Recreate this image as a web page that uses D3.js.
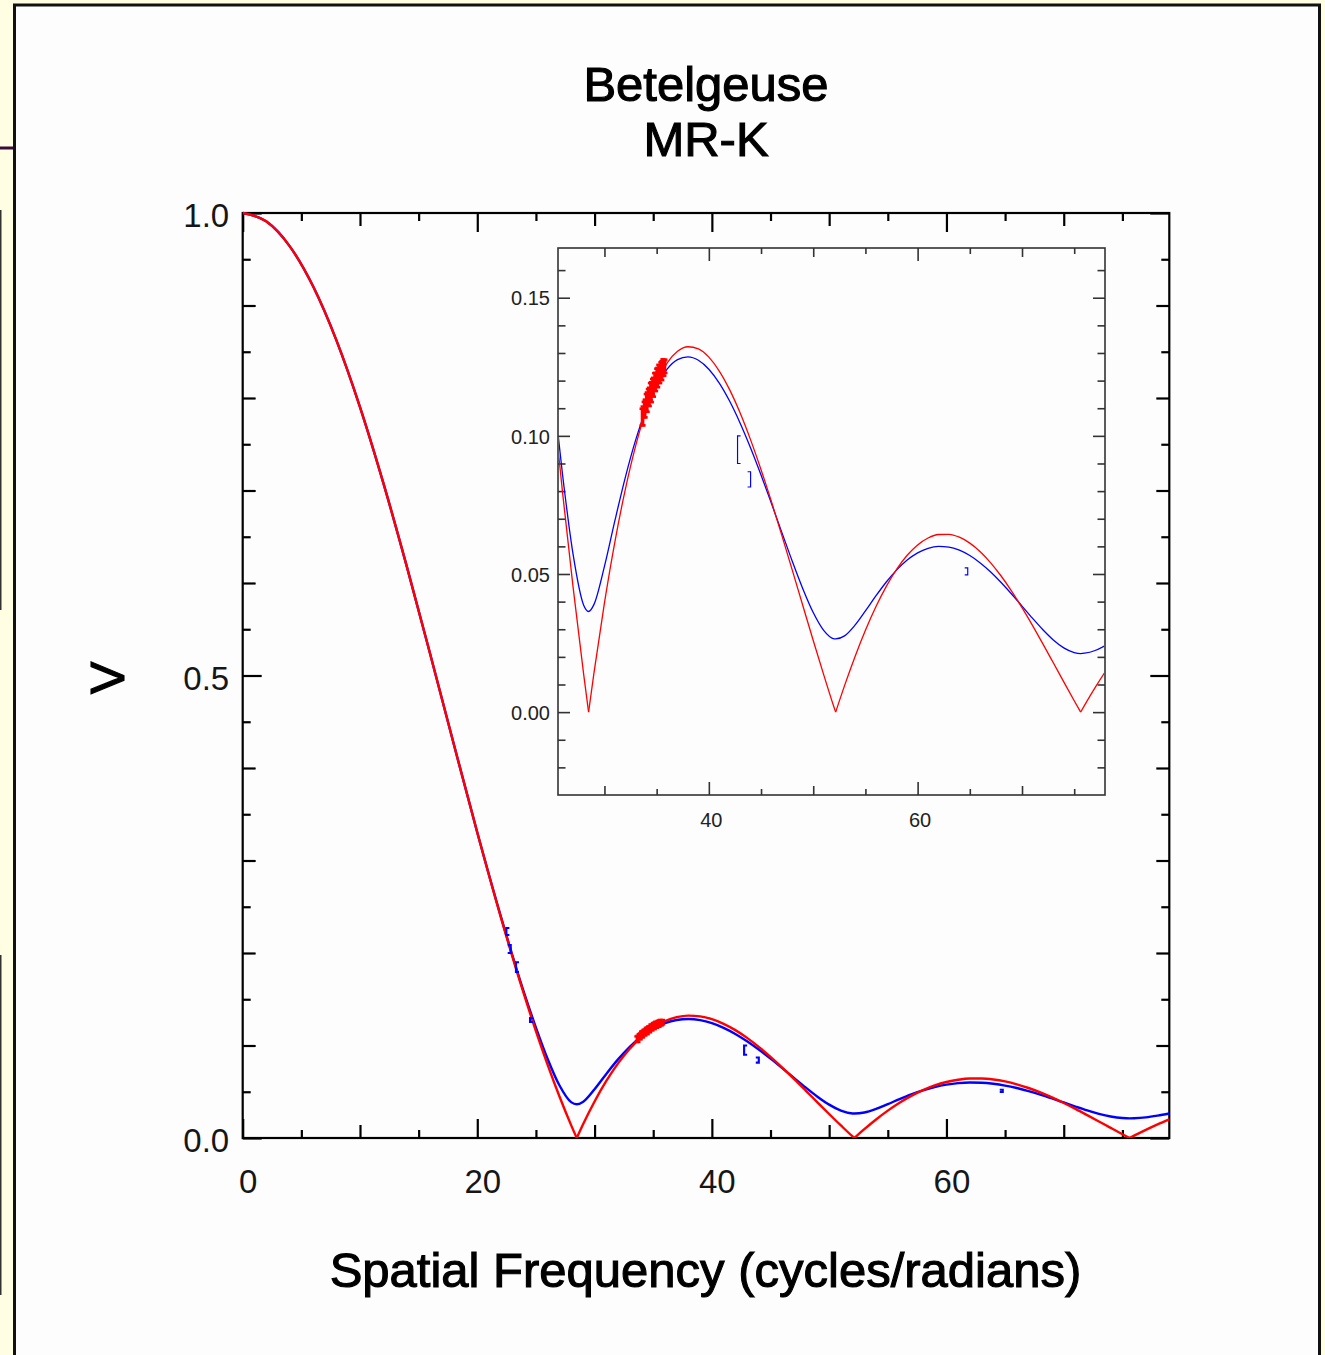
<!DOCTYPE html>
<html>
<head>
<meta charset="utf-8">
<script src="https://cdnjs.cloudflare.com/ajax/libs/d3/7.8.5/d3.min.js"></script>
<style>
  body { margin: 0; background: #fffee2; }
  svg { display: block; font-family: "Liberation Sans", Arial, Helvetica, sans-serif; }
</style>
</head>
<body>
<div id="chart"></div>
<script>
// Data: spatial frequency (cycles/radians) and the two model visibilities
const freq = [0, 2, 4, 6, 8, 10, 12, 14, 16, 18, 20, 22, 24, 25, 26, 27, 28, 28.48, 29, 30,
  31, 32, 33, 34, 35, 36, 37, 38, 39, 40, 41, 42, 43, 44, 45, 46, 47, 48, 49, 50,
  51, 52, 52.15, 53, 54, 55, 56, 57, 58, 59, 60, 61, 62, 63, 64, 65, 66, 67, 68, 69,
  70, 71, 72, 73, 74, 75, 75.62, 76, 77, 78, 79];

// red: uniform disk fit
const uniformDisk = [1.0, 0.99098, 0.96423, 0.92073, 0.86201, 0.79017, 0.70770, 0.61744, 0.52241, 0.42569,
  0.33031, 0.23911, 0.15463, 0.11560, 0.07902, 0.04507, 0.01392, 0, 0.01430, 0.03952,
  0.06164, 0.08065, 0.09657, 0.10944, 0.11933, 0.12634, 0.13059, 0.13225, 0.13148, 0.12848,
  0.12346, 0.11664, 0.10826, 0.09855, 0.08776, 0.07613, 0.06390, 0.05131, 0.03859, 0.02594,
  0.01357, 0.00166, 0, 0.00958, 0.02006, 0.02961, 0.03813, 0.04554, 0.05177, 0.05677,
  0.06052, 0.06303, 0.06430, 0.06437, 0.06331, 0.06118, 0.05806, 0.05405, 0.04927, 0.04382,
  0.03783, 0.03142, 0.02471, 0.01785, 0.01094, 0.00412, 0, 0.00251, 0.00884, 0.01477, 0.02022];

// blue: second model
const modelB = [1.0, 0.99098, 0.96423, 0.92073, 0.86201, 0.79017, 0.70770, 0.61744, 0.52241, 0.42569,
  0.33031, 0.23995, 0.15660, 0.11942, 0.08548, 0.05699, 0.03879, 0.03642, 0.03901, 0.05277,
  0.06931, 0.08500, 0.09862, 0.10975, 0.11825, 0.12417, 0.12758, 0.12862, 0.12738, 0.12413,
  0.11911, 0.11251, 0.10459, 0.09561, 0.08582, 0.07551, 0.06498, 0.05454, 0.04469, 0.03605,
  0.02961, 0.02654, 0.02650, 0.02759, 0.03147, 0.03663, 0.04204, 0.04710, 0.05148, 0.05504,
  0.05765, 0.05930, 0.05999, 0.05975, 0.05863, 0.05669, 0.05401, 0.05073, 0.04694, 0.04277,
  0.03839, 0.03400, 0.02982, 0.02613, 0.02326, 0.02156, 0.02120, 0.02133, 0.02230, 0.02415, 0.02644];

// red measurements (dense group)
const blobFreq = [33.6, 33.7, 33.8, 33.9, 34.0, 34.1, 34.2, 34.3, 34.4, 34.5, 34.6, 34.7,
  34.8, 34.9, 35.0, 35.1, 35.2, 35.3, 35.4, 35.5, 35.6, 35.7, 35.8];
const blobVis = [0.1068, 0.1072, 0.1095, 0.1099, 0.1121, 0.1122, 0.1140, 0.1141, 0.1160, 0.1158, 0.1178, 0.1176,
  0.1197, 0.1195, 0.1214, 0.1211, 0.1226, 0.1223, 0.1238, 0.1236, 0.1247, 0.1245, 0.1252];
const blobErr = [0.0030, 0.0034, 0.0028, 0.0032, 0.0030, 0.0035, 0.0029, 0.0033, 0.0031, 0.0036, 0.0028, 0.0034,
  0.0030, 0.0033, 0.0029, 0.0035, 0.0031, 0.0032, 0.0028, 0.0034, 0.0030, 0.0027, 0.0024];

// blue measurements (error brackets)
const bracketFreq = [22.48, 22.85, 23.3, 24.5, 42.75, 44.0, 64.8];
const bracketLow = [0.2195, 0.2000, 0.1795, 0.1254, 0.0900, 0.0815, 0.0497];
const bracketHigh = [0.2270, 0.2086, 0.1900, 0.1297, 0.1000, 0.0870, 0.0522];
const bracketSide = [1, -1, 1, 1, 1, -1, -1];

// ticks
const mainXMajor = [0, 20, 40, 60];
const mainXMid = [10, 30, 50, 70];
const mainXMinor = [5, 15, 25, 35, 45, 55, 65, 75];
const mainYMajor = [0, 0.5, 1.0];
const mainYMid = [0.1, 0.2, 0.3, 0.4, 0.6, 0.7, 0.8, 0.9];
const mainYMinor = [0.05, 0.15, 0.25, 0.35, 0.45, 0.55, 0.65, 0.75, 0.85, 0.95];

const insetXMajor = [40, 60];
const insetXMid = [30, 50, 70];
const insetXMinor = [35, 45, 55, 65, 75];
const insetYMajor = [0, 0.05, 0.10, 0.15];
const insetYMinor = [-0.02, -0.01, 0.01, 0.02, 0.03, 0.04, 0.06, 0.07, 0.08, 0.09,
  0.11, 0.12, 0.13, 0.14, 0.16];

function draw() {
  const width = 1325, height = 1355;

  const svg = d3.select("#chart").append("svg")
    .attr("width", width)
    .attr("height", height);

  // page bits around the panel
  svg.append("rect").attr("x", 0).attr("y", 146.5).attr("width", 13).attr("height", 3).attr("fill", "#3a0b3a");
  svg.append("rect").attr("x", 0).attr("y", 210).attr("width", 1.5).attr("height", 400).attr("fill", "#333");
  svg.append("rect").attr("x", 0).attr("y", 955).attr("width", 1.5).attr("height", 340).attr("fill", "#333");
  svg.append("rect")
    .attr("x", 14.5).attr("y", 5)
    .attr("width", 1305).attr("height", 1420)
    .attr("fill", "#fdfdfd")
    .attr("stroke", "#111")
    .attr("stroke-width", 3);

  // titles (a thin stroke thickens the glyphs like the original bitmap font)
  const titles = svg.append("g").attr("font-size", 49).attr("fill", "#000")
    .attr("stroke", "#000").attr("stroke-width", 1.1).attr("text-anchor", "middle");
  titles.append("text").attr("x", 706).attr("y", 101).text("Betelgeuse");
  titles.append("text").attr("x", 706).attr("y", 156).text("MR-K");
  titles.append("text").attr("x", 705.5).attr("y", 1287).text("Spatial Frequency (cycles/radians)");
  titles.append("text").attr("transform", "translate(124,678) rotate(-90)").text("V");

  // scales
  const main = { x0: 242.7, x1: 1169.3, y0: 1138, y1: 213 };
  const xMain = d3.scaleLinear().domain([0, 79]).range([main.x0, main.x1]);
  const yMain = d3.scaleLinear().domain([0, 1]).range([main.y0, main.y1]);

  const ins = { x0: 558, x1: 1105, y0: 795, y1: 248 };
  const xIns = d3.scaleLinear().domain([25.55, 77.95]).range([ins.x0, ins.x1]);
  const yIns = d3.scaleLinear().domain([-0.03, 0.168]).range([ins.y0, ins.y1]);

  function tickGroup(axis, values, size, translate, stroke, width, fmt) {
    const g = svg.append("g")
      .attr("transform", translate)
      .call(axis.tickValues(values).tickSize(-size).tickFormat(fmt || (() => "")));
    g.select(".domain").remove();
    g.attr("font-family", null).attr("font-size", null);
    g.selectAll("line").attr("stroke", stroke).attr("stroke-width", width);
    return g;
  }

  // ----- main panel -----
  svg.append("rect")
    .attr("x", main.x0).attr("y", main.y1)
    .attr("width", main.x1 - main.x0).attr("height", main.y0 - main.y1)
    .attr("fill", "none").attr("stroke", "#000").attr("stroke-width", 2.2);

  const bottomMain = tickGroup(d3.axisBottom(xMain).tickPadding(31.6), mainXMajor, 19,
    `translate(0,${main.y0})`, "#000", 2.2, d3.format("d"));
  bottomMain.selectAll("text").attr("font-size", 33).attr("fill", "#161616").attr("dx", 5);
  tickGroup(d3.axisBottom(xMain), mainXMid, 13, `translate(0,${main.y0})`, "#000", 2.2);
  tickGroup(d3.axisBottom(xMain), mainXMinor, 8, `translate(0,${main.y0})`, "#000", 2.2);
  tickGroup(d3.axisTop(xMain), mainXMajor, 19, `translate(0,${main.y1})`, "#000", 2.2);
  tickGroup(d3.axisTop(xMain), mainXMid, 13, `translate(0,${main.y1})`, "#000", 2.2);
  tickGroup(d3.axisTop(xMain), mainXMinor, 8, `translate(0,${main.y1})`, "#000", 2.2);

  const leftMain = tickGroup(d3.axisLeft(yMain).tickPadding(13.5), mainYMajor, 19,
    `translate(${main.x0},0)`, "#000", 2.2, d3.format(".1f"));
  leftMain.selectAll("text").attr("font-size", 33).attr("fill", "#161616").attr("dy", "0.42em");
  tickGroup(d3.axisLeft(yMain), mainYMid, 13, `translate(${main.x0},0)`, "#000", 2.2);
  tickGroup(d3.axisLeft(yMain), mainYMinor, 8, `translate(${main.x0},0)`, "#000", 2.2);
  tickGroup(d3.axisRight(yMain), mainYMajor, 19, `translate(${main.x1},0)`, "#000", 2.2);
  tickGroup(d3.axisRight(yMain), mainYMid, 13, `translate(${main.x1},0)`, "#000", 2.2);
  tickGroup(d3.axisRight(yMain), mainYMinor, 8, `translate(${main.x1},0)`, "#000", 2.2);

  // split the red model into lobes at its zeros so the cusps stay sharp
  const lobes = [];
  let cur = [];
  freq.forEach((u, i) => {
    cur.push([u, uniformDisk[i]]);
    if (uniformDisk[i] === 0) {
      lobes.push(cur);
      cur = [[u, 0]];
    }
  });
  lobes.push(cur);
  const bluePts = freq.map((u, i) => [u, modelB[i]]);

  function drawCurves(g, x, y, lw, capW, blobW) {
    const line = d3.line().x((d) => x(d[0])).y((d) => y(d[1])).curve(d3.curveMonotoneX);
    g.append("path").attr("d", line(bluePts))
      .attr("fill", "none").attr("stroke", "#0000ff").attr("stroke-width", lw);
    lobes.forEach((lobe) => {
      g.append("path").attr("d", line(lobe))
        .attr("fill", "none").attr("stroke", "#ff0000").attr("stroke-width", lw);
    });

    // red measurements with error bars
    const blob = g.append("g").attr("stroke", "#ff0000").attr("stroke-width", blobW);
    blobFreq.forEach((u, i) => {
      const lo = y(blobVis[i] - blobErr[i]), hi = y(blobVis[i] + blobErr[i]);
      blob.append("line").attr("x1", x(u)).attr("x2", x(u)).attr("y1", lo).attr("y2", hi);
      blob.append("line").attr("x1", x(u) - capW).attr("x2", x(u) + capW).attr("y1", lo).attr("y2", lo);
      blob.append("line").attr("x1", x(u) - capW).attr("x2", x(u) + capW).attr("y1", hi).attr("y2", hi);
    });

    // blue measurements as brackets
    const br = g.append("g").attr("fill", "none").attr("stroke", "#0000ff").attr("stroke-width", lw * 0.9);
    bracketFreq.forEach((u, i) => {
      const px = x(u), c = bracketSide[i] * 3;
      const lo = y(bracketLow[i]), hi = y(bracketHigh[i]);
      br.append("path").attr("d", `M${px + c},${hi}H${px}V${lo}H${px + c}`);
    });
  }

  svg.append("clipPath").attr("id", "clip-main").append("rect")
    .attr("x", main.x0).attr("y", main.y1 - 2)
    .attr("width", main.x1 - main.x0).attr("height", main.y0 - main.y1 + 2);
  drawCurves(svg.append("g").attr("clip-path", "url(#clip-main)"), xMain, yMain, 2.4, 2.5, 2.4);

  // ----- inset panel -----
  svg.append("rect")
    .attr("x", ins.x0).attr("y", ins.y1)
    .attr("width", ins.x1 - ins.x0).attr("height", ins.y0 - ins.y1)
    .attr("fill", "#fdfdfd").attr("stroke", "#333").attr("stroke-width", 1.6);

  const insColor = "#333";
  const bottomIns = tickGroup(d3.axisBottom(xIns).tickPadding(17.8), insetXMajor, 13,
    `translate(0,${ins.y0})`, insColor, 1.6, d3.format("d"));
  bottomIns.selectAll("text").attr("font-size", 20).attr("fill", "#222").attr("dx", 2);
  tickGroup(d3.axisBottom(xIns), insetXMid, 9, `translate(0,${ins.y0})`, insColor, 1.6);
  tickGroup(d3.axisBottom(xIns), insetXMinor, 6, `translate(0,${ins.y0})`, insColor, 1.6);
  tickGroup(d3.axisTop(xIns), insetXMajor, 13, `translate(0,${ins.y1})`, insColor, 1.6);
  tickGroup(d3.axisTop(xIns), insetXMid, 9, `translate(0,${ins.y1})`, insColor, 1.6);
  tickGroup(d3.axisTop(xIns), insetXMinor, 6, `translate(0,${ins.y1})`, insColor, 1.6);

  const leftIns = tickGroup(d3.axisLeft(yIns).tickPadding(8), insetYMajor, 12,
    `translate(${ins.x0},0)`, insColor, 1.6, d3.format(".2f"));
  leftIns.selectAll("text").attr("font-size", 20).attr("fill", "#222").attr("dy", "0.36em");
  tickGroup(d3.axisLeft(yIns), insetYMinor, 7.5, `translate(${ins.x0},0)`, insColor, 1.6);
  tickGroup(d3.axisRight(yIns), insetYMajor, 12, `translate(${ins.x1},0)`, insColor, 1.6);
  tickGroup(d3.axisRight(yIns), insetYMinor, 7.5, `translate(${ins.x1},0)`, insColor, 1.6);

  svg.append("clipPath").attr("id", "clip-ins").append("rect")
    .attr("x", ins.x0 + 1).attr("y", ins.y1 + 1)
    .attr("width", ins.x1 - ins.x0 - 2).attr("height", ins.y0 - ins.y1 - 2);
  drawCurves(svg.append("g").attr("clip-path", "url(#clip-ins)"), xIns, yIns, 1.3, 2.5, 2.6);
}

draw();
</script>
</body>
</html>
